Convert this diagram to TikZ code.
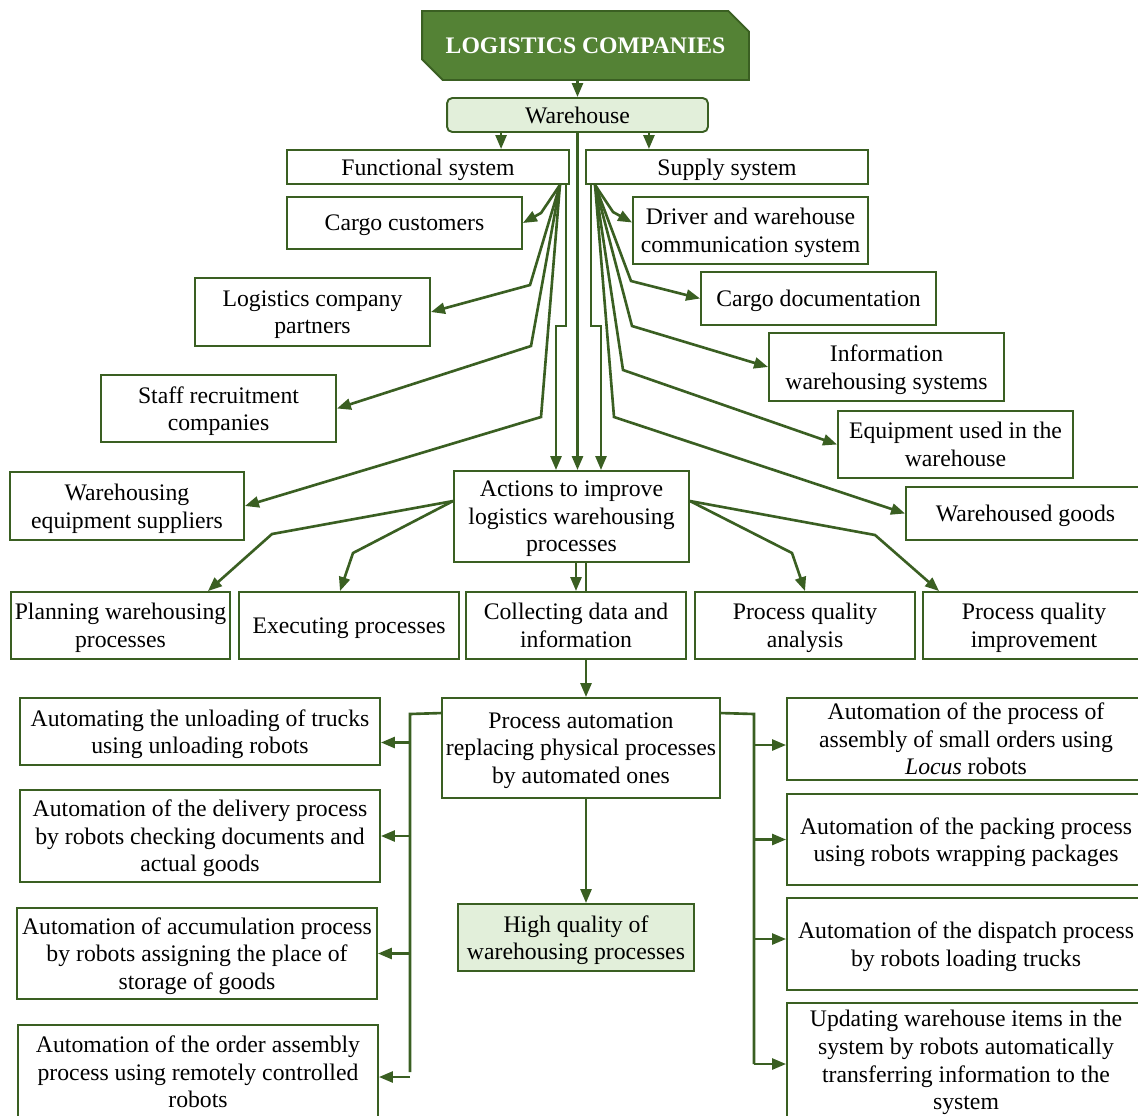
\documentclass[tikz,border=0pt]{standalone}
\usepackage{fontspec}
\setmainfont{Liberation Serif}
\usetikzlibrary{positioning}
\usetikzlibrary{calc}
\usetikzlibrary{arrows.meta}
\usetikzlibrary{shapes.misc}
\definecolor{leaf}{HTML}{548235}
\definecolor{darkleaf}{HTML}{3A5F22}
\definecolor{paleleaf}{HTML}{E2EFDA}

\begin{document}
\begin{tikzpicture}[x=0.02cm,y=-0.02cm,
  box/.style={draw=darkleaf, line width=1.1pt, fill=white, align=center, inner sep=1pt, text depth=-1pt, font={\fontsize{13.5}{15.7}\selectfont}},
  palebox/.style={box, fill=paleleaf},
  link/.style={draw=darkleaf, line width=1.5pt},
  arr/.style={link, -{Triangle[length=2.8mm,width=2.2mm]}}]

\useasboundingbox (0,0) rectangle (1138,1115);
\clip (0,0) rectangle (1138,1115);

% top
\node[box, text depth=0pt, chamfered rectangle, chamfered rectangle corners={north east,south west}, chamfered rectangle xsep=0.22cm, chamfered rectangle ysep=0.22cm, fill=leaf, text=white, font={\bfseries\fontsize{13.5}{15.3}\selectfont}, minimum width=6.54cm, minimum height=1.38cm] (lc) at (585.5,45.5) {LOGISTICS COMPANIES};
\node[palebox, rounded corners=3pt, minimum width=5.22cm, minimum height=0.68cm] (wh) at (577.5,115) {Warehouse};
\node[box, minimum width=5.64cm, minimum height=0.68cm] (fs) at (428,167) {Functional system};
\node[box, minimum width=5.64cm, minimum height=0.68cm] (ss) at (727,167) {Supply system};

% functional side
\node[box, minimum width=4.7cm, minimum height=1.04cm] (cc) at (404.5,223) {Cargo customers};
\node[box, minimum width=4.7cm, minimum height=1.36cm] (lp) at (312.5,312) {Logistics company\\partners};
\node[box, minimum width=4.7cm, minimum height=1.34cm] (sr) at (218.5,408.5) {Staff recruitment\\companies};
\node[box, minimum width=4.68cm, minimum height=1.36cm] (we) at (127,506) {Warehousing\\equipment suppliers};

% supply side
\node[box, minimum width=4.7cm, minimum height=1.34cm] (dw) at (750.5,230.5) {Driver and warehouse\\communication system};
\node[box, minimum width=4.7cm, minimum height=1.06cm] (cdoc) at (818.5,298.5) {Cargo documentation};
\node[box, minimum width=4.7cm, minimum height=1.36cm] (iws) at (886.5,367) {Information\\warehousing systems};
\node[box, minimum width=4.7cm, minimum height=1.34cm] (eq) at (955.5,444.5) {Equipment used in the\\warehouse};
\node[box, minimum width=4.78cm, minimum height=1.06cm] (wg) at (1025.5,513.5) {Warehoused goods};

% actions
\node[box, minimum width=4.7cm, minimum height=1.82cm] (ac) at (571.5,516.5) {Actions to improve\\logistics warehousing\\processes};
\node[box, minimum width=4.38cm, minimum height=1.34cm] (pw) at (120.5,625.5) {Planning warehousing\\processes};
\node[box, minimum width=4.4cm, minimum height=1.34cm] (ex) at (349,625.5) {Executing processes};
\node[box, minimum width=4.4cm, minimum height=1.34cm] (cd) at (576,625.5) {Collecting data and\\information};
\node[box, minimum width=4.4cm, minimum height=1.34cm] (qa) at (805,625.5) {Process quality\\analysis};
\node[box, minimum width=4.44cm, minimum height=1.34cm] (qi) at (1034,625.5) {Process quality\\improvement};

% automation
\node[box, minimum width=5.56cm, minimum height=2cm] (pa) at (581,748) {Process automation\\replacing physical processes\\by automated ones};
\node[palebox, minimum width=4.72cm, minimum height=1.34cm] (hq) at (576,937.5) {High quality of\\warehousing processes};

\node[box, minimum width=7.2cm, minimum height=1.34cm] (a1) at (200,731.5) {Automating the unloading of trucks\\using unloading robots};
\node[box, minimum width=7.2cm, minimum height=1.84cm] (a2) at (200,836) {Automation of the delivery process\\by robots checking documents and\\actual goods};
\node[box, minimum width=7.2cm, minimum height=1.82cm] (a3) at (197,953.5) {Automation of accumulation process\\by robots assigning the place of\\storage of goods};
\node[box, minimum width=7.2cm, minimum height=1.88cm] (a4) at (198,1072) {Automation of the order assembly\\process using remotely controlled\\robots};

\node[box, minimum width=7.16cm, minimum height=1.64cm] (b1) at (966,739) {Automation of the process of\\assembly of small orders using\\\textit{Locus} robots};
\node[box, minimum width=7.16cm, minimum height=1.82cm] (b2) at (966,839.5) {Automation of the packing process\\using robots wrapping packages};
\node[box, minimum width=7.16cm, minimum height=1.84cm] (b3) at (966,944) {Automation of the dispatch process\\by robots loading trucks};
\node[box, minimum width=7.16cm, minimum height=2.28cm] (b4) at (966,1060) {Updating warehouse items in the\\system by robots automatically\\transferring information to the\\system};

% connectors from the top
\draw[arr] (lc.south -| wh.north) -- (wh.north);
\coordinate (w1) at ($(wh.south west)+(55,0)$);
\coordinate (w2) at ($(wh.south east)+(-60,0)$);
\draw[arr] (w1) -- (w1 |- fs.north);
\draw[arr] (w2) -- (w2 |- ss.north);
\draw[arr] (wh.south) -- (wh.south |- ac.north);

\coordinate (f1) at ($(fs.south east)+(-4,0)$);
\coordinate (s1) at ($(ss.south west)+(6,0)$);
\draw[arr] (f1) -- ++(0,141) -| ($(ac.north)+(-15.5,0)$);
\draw[arr] (s1) -- ++(0,141) -| ($(ac.north)+(29.5,0)$);

% fans
\coordinate (fo) at ($(fs.south east)+(-10,0)$);
\draw[arr] (fo) -- (541,213) -- (cc.east);
\draw[arr] (fo) -- (530,285) -- (lp.east);
\draw[arr] (fo) -- (531,346) -- (sr.east);
\draw[arr] (fo) -- (541,417) -- (we.east);

\coordinate (so) at ($(ss.south west)+(10,0)$);
\draw[arr] (so) -- (613,212) -- ($(dw.west)+(0,-8)$);
\draw[arr] (so) -- (631,281) -- (cdoc.west);
\draw[arr] (so) -- (632,326) -- (iws.west);
\draw[arr] (so) -- (623,370) -- (eq.west);
\draw[arr] (so) -- (614,417) -- (wg.west);

% actions to the row below
\coordinate (al) at ($(ac.north west)+(0,31)$);
\coordinate (ar) at ($(ac.north east)+(0,31)$);
\draw[arr] (al) -- (272,534) -- ($(pw.north east)+(-23,0)$);
\draw[arr] (al) -- (353,553) -- ($(ex.north)+(-9,0)$);
\draw[arr] (ac.south -| cd.north) -- (cd.north);
\draw[arr] (ar) -- (792,553) -- (qa.north);
\draw[arr] (ar) -- (875,535) -- ($(qi.north west)+(17,0)$);

\coordinate (cx) at ($(cd.south)+(10,0)$);
\draw[link] (ac.south -| cx) -- (cx |- cd.north);
\draw[arr] (cx) -- (cx |- pa.north);
\draw[arr] (pa.south -| cx) -- (cx |- hq.north);

% automation trunks
\coordinate (lt) at (410,714);
\draw[link] ($(pa.north west)+(0,16)$) -- (lt) -- (lt |- a4.east);
\coordinate (l1) at ($(a1.east)+(0,11)$);
\coordinate (l4) at ($(a4.east)+(0,5)$);
\draw[arr] (l1 -| lt) -- (l1);
\draw[arr] (a2.east -| lt) -- (a2.east);
\draw[arr] (a3.east -| lt) -- (a3.east);
\draw[arr] (l4 -| lt) -- (l4);

\coordinate (rt) at (754,714);
\coordinate (r1) at ($(b1.west)+(0,6)$);
\coordinate (r3) at ($(b3.west)+(0,-5)$);
\coordinate (r4) at ($(b4.west)+(0,4)$);
\draw[link] ($(pa.north east)+(0,16)$) -- (rt) -- (rt |- r4);
\draw[arr] (r1 -| rt) -- (r1);
\draw[arr] (b2.west -| rt) -- (b2.west);
\draw[arr] (r3 -| rt) -- (r3);
\draw[arr] (r4 -| rt) -- (r4);

\end{tikzpicture}
\end{document}
